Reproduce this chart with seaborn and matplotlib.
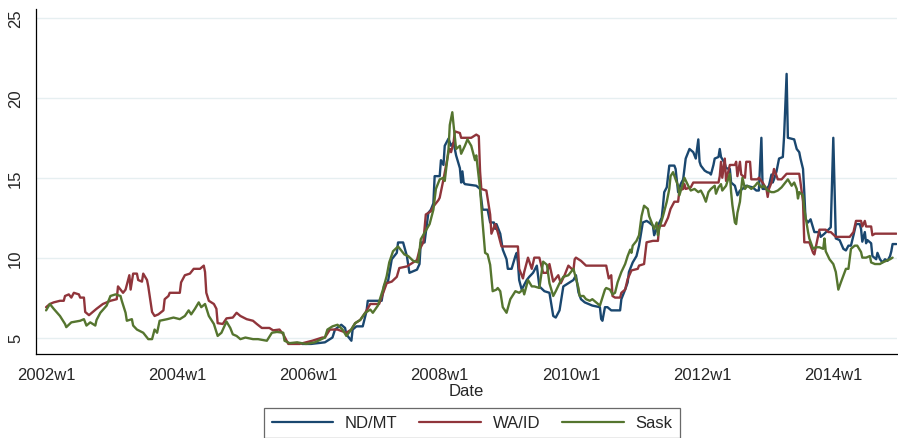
import matplotlib
matplotlib.use("Agg")
import matplotlib.pyplot as plt
import seaborn as sns
import pandas as pd

# ---- data (weeks since 2002w1, price) ----
ndmt_weeks = [203,210,221,227,229,234,237,238,242,243,246,251,254,255,266,268,271,274,278,279,283,286,288,294,296,297,300,303,305,307,308,312,313,315,316,319,321,323,325,328,329,330,331,332,341,344,346,350,352,355,356,357,360,362,365,366,369,372,373,374,375,377,381,383,386,389,391,395,399,402,404,407,410,414,418,420,422,424,427,430,433,439,440,441,443,445,448,455,456,459,461,462,465,468,470,473,476,478,481,482,485,488,489,490,492,493,494,498,499,501,503,505,507,510,513,515,517,518,519,522,524,526,527,529,530,533,534,535,538,539,542,543,546,548,550,552,555,560,563,565,567,568,571,573,575,576,577,579,581,584,585,587,588,593,595,597,598,600,601,602,604,606,609,613,614,617,622,624,626,629,632,634,636,638,640,642,645,646,647,649,650,651,654,655,658,659,661,663,665,667,669,670,671,674]
ndmt_vals = [4.6,4.6,4.7,5.0,5.5,5.8,5.6,5.2,4.8,5.5,5.7,5.7,6.65,7.3,7.3,8.3,8.5,9.9,10.3,10.95,10.95,10.1,9.05,9.25,9.6,10.95,10.95,12.8,13.0,13.4,15.1,15.1,16.1,15.8,17.0,17.45,17.0,17.2,16.4,15.6,14.7,15.4,14.7,14.6,14.5,14.3,13.0,13.0,12.2,12.2,11.8,12.1,11.5,10.5,9.9,9.3,9.3,10.1,10.3,9.7,8.6,8.0,8.6,8.8,9.05,9.5,8.2,7.9,7.8,6.35,6.25,6.7,8.2,8.4,8.6,8.9,7.83,7.4,7.2,7.1,7.0,6.9,6.16,6.05,6.9,6.9,6.7,6.7,7.4,8.0,8.45,9.1,9.7,10.1,10.75,12.2,12.3,12.2,12.0,11.4,12.0,12.5,13.25,14.1,14.4,15.1,15.76,15.76,15.55,14.1,14.6,14.9,16.2,16.8,16.6,16.2,17.4,16.0,15.76,15.45,15.35,15.3,15.2,15.8,16.2,16.3,16.8,16.3,15.9,15.6,15.55,14.7,14.5,13.9,14.2,14.3,14.5,14.4,14.2,14.2,17.5,14.3,14.3,14.5,15.2,14.7,14.9,15.4,16.2,16.3,17.6,21.5,17.5,17.4,16.8,16.6,16.2,15.55,14.1,12.4,12.2,12.4,11.6,11.6,11.3,11.5,11.9,17.5,11.2,11.1,10.55,10.45,10.75,10.75,11.4,12.1,12.1,11.8,11.0,11.6,10.9,11.1,10.9,10.1,9.9,10.3,9.9,9.7,9.9,9.8,10.1,10.4,10.85,10.85]

waid_weeks = [0,3,6,11,14,15,18,20,22,26,27,30,31,34,40,45,51,56,57,61,63,66,67,69,72,73,76,77,80,81,84,86,89,93,94,97,98,106,107,110,114,117,122,125,126,127,129,133,135,136,140,143,148,151,154,159,164,167,171,177,180,185,188,192,201,211,219,221,225,231,238,242,245,249,253,257,264,270,274,278,280,286,290,294,296,299,301,305,307,311,312,315,319,320,321,323,324,328,329,337,341,343,344,345,349,352,353,356,358,361,374,375,378,379,382,385,387,391,394,397,399,402,406,408,411,414,418,419,420,424,428,444,446,448,449,451,455,456,459,461,464,469,470,474,476,481,485,486,490,493,495,498,501,502,505,506,507,511,513,533,534,535,536,538,539,542,546,547,548,550,551,554,555,558,559,564,565,568,571,572,573,575,577,580,583,587,597,598,600,601,605,608,609,610,613,618,620,622,626,637,640,642,646,647,649,650,654,655,657,674]
waid_vals = [6.9,7.1,7.2,7.3,7.3,7.6,7.7,7.5,7.8,7.7,7.5,7.5,6.6,6.4,6.8,7.1,7.3,7.4,8.2,7.8,8.0,8.9,8.0,9.0,9.0,8.6,8.5,9.0,8.6,8.2,6.6,6.35,6.45,6.7,7.4,7.6,7.8,7.8,8.45,8.9,9.0,9.3,9.3,9.5,9.1,7.8,7.3,7.1,6.8,5.9,5.85,6.2,6.25,6.55,6.35,6.15,6.05,5.85,5.6,5.6,5.45,5.5,5.2,4.6,4.6,4.8,5.0,5.0,5.5,5.5,5.3,5.5,5.9,6.1,6.55,7.1,7.1,8.4,8.5,8.8,9.35,9.45,9.65,9.85,10.5,10.95,12.7,12.9,13.2,13.6,13.75,14.9,16.6,16.8,16.6,17.2,17.9,17.8,17.5,17.5,17.7,17.6,15.4,14.3,14.2,12.7,11.5,12.1,11.6,10.7,10.7,9.3,8.7,9.1,10.0,9.3,10.0,10.0,9.05,9.05,9.6,8.5,8.9,8.4,8.9,9.5,9.2,9.9,10.0,9.8,9.5,9.5,8.7,8.9,7.6,7.5,7.5,7.8,8.0,8.66,9.2,9.3,9.5,9.6,10.96,11.05,11.05,12.0,12.0,12.5,13.05,13.5,13.5,14.2,14.3,14.6,14.3,14.4,14.7,14.7,15.1,16.0,15.0,16.2,14.8,15.8,15.8,16.0,15.1,16.0,15.2,15.0,16.0,16.0,14.9,14.9,15.0,14.7,14.3,13.8,14.3,14.7,15.55,14.9,14.9,15.25,15.25,14.7,13.5,10.96,10.96,10.3,10.2,10.6,11.75,11.75,11.6,11.6,11.3,11.3,11.6,12.3,12.3,11.95,12.3,11.95,11.95,11.4,11.5,11.5]

sask_weeks = [0,3,6,11,15,16,20,27,30,32,35,39,40,43,48,51,55,59,60,63,64,68,69,72,77,81,84,86,88,90,96,101,106,110,113,115,118,121,123,126,129,133,136,139,143,146,148,151,154,158,164,168,175,179,183,188,189,193,199,206,213,221,223,227,231,235,238,241,245,249,253,257,259,263,267,270,272,275,279,282,284,287,291,295,297,301,304,307,309,312,315,316,319,320,322,323,325,328,329,332,334,337,338,340,341,344,345,346,348,350,352,354,357,358,360,362,365,368,372,375,378,379,382,385,387,391,394,397,399,402,404,407,410,414,418,420,422,423,426,428,431,433,436,439,441,443,444,447,449,451,453,456,459,461,463,464,465,468,470,472,474,477,478,480,482,484,485,486,489,492,494,495,497,499,501,502,505,506,509,511,514,517,519,521,523,525,527,530,531,533,535,536,539,542,543,544,546,547,548,550,551,552,554,556,559,562,564,567,569,572,575,577,580,583,585,588,591,593,595,596,597,600,601,604,605,608,610,613,616,617,618,621,624,626,628,630,632,634,636,638,641,643,646,647,650,653,654,657,661,663,666,669,671]
sask_vals = [6.7,7.1,6.8,6.35,5.85,5.65,5.95,6.05,6.15,5.75,5.95,5.75,6.1,6.55,7.0,7.6,7.7,7.6,7.3,6.55,6.05,6.15,5.75,5.5,5.3,4.9,4.9,5.5,5.3,6.05,6.15,6.25,6.15,6.35,6.7,6.45,6.8,7.2,6.9,7.1,6.35,5.85,5.1,5.3,6.0,5.6,5.2,5.1,4.9,5.0,4.9,4.9,4.8,5.3,5.35,5.3,4.8,4.65,4.7,4.6,4.7,5.0,5.5,5.7,5.8,5.5,5.1,5.4,5.9,6.1,6.55,6.75,6.55,7.0,8.0,8.85,9.7,10.4,10.7,10.4,10.2,10.1,9.8,9.7,11.15,11.7,12.1,13.0,14.3,14.9,15.0,14.8,16.8,18.3,19.1,18.3,16.8,17.0,16.5,17.0,17.4,17.0,16.7,16.1,16.4,14.3,13.25,12.2,10.3,10.2,9.55,7.9,8.0,8.1,7.9,6.9,6.55,7.4,7.9,7.8,8.0,7.7,8.6,8.2,8.2,8.1,9.75,9.55,8.4,7.6,7.9,8.4,8.8,8.9,9.3,8.7,8.1,7.6,7.6,7.4,7.3,7.4,7.2,7.0,7.5,8.0,8.1,8.0,7.7,7.8,8.45,9.1,9.6,10.1,10.5,10.3,10.75,11.05,11.4,12.6,13.25,13.05,12.6,12.2,11.8,12.2,11.4,11.8,12.6,13.5,14.3,15.1,15.35,14.9,14.5,13.9,14.7,15.0,14.5,14.2,14.3,14.1,14.2,13.9,13.5,14.1,14.3,14.5,14.0,14.4,14.6,14.2,14.5,15.25,14.1,13.3,12.2,12.1,12.8,13.5,14.3,15.0,14.3,14.5,14.3,14.5,14.7,14.4,14.5,14.2,14.1,14.1,14.2,14.4,14.6,14.9,14.5,14.7,14.3,13.7,14.1,13.9,13.05,11.6,11.2,10.55,10.65,10.65,10.55,11.2,10.4,9.9,9.6,9.1,8.0,8.45,8.87,9.3,9.3,10.55,10.75,10.75,10.35,10.0,10.0,10.1,9.7,9.6,9.6,9.7,9.8,9.9,10.0]

series_names = ["ND/MT", "WA/ID", "Sask"]
x_tick_weeks = [0, 104, 208, 312, 416, 520, 624]
x_tick_labels = ["2002w1", "2004w1", "2006w1", "2008w1", "2010w1", "2012w1", "2014w1"]
y_ticks = [5, 10, 15, 20, 25]

colors = {"ND/MT": "#1a476f", "WA/ID": "#90353b", "Sask": "#55752f"}

frames = []
for name, w, v in zip(series_names, [ndmt_weeks, waid_weeks, sask_weeks], [ndmt_vals, waid_vals, sask_vals]):
    frames.append(pd.DataFrame({"week": w, "price": v, "series": name}))
df = pd.concat(frames, ignore_index=True)

sns.set_style("white")
plt.rcParams["font.family"] = ["Liberation Sans", "DejaVu Sans"]

W, H = 898, 439
fig = plt.figure(figsize=(W / 100, H / 100), dpi=100)
ax_left, ax_right, ax_top, ax_bottom = 36, 897, 10, 355
ax = fig.add_axes([ax_left / W, 1 - ax_bottom / H, (ax_right - ax_left) / W, (ax_bottom - ax_top) / H])

sns.lineplot(data=df, x="week", y="price", hue="series", hue_order=series_names,
             palette=colors, estimator=None, sort=False, linewidth=1.7, ax=ax, legend=False)

ax.set_xlim(-8, 674.5)
ax.set_ylim(3.97, 25.56)
ax.set_xticks(x_tick_weeks)
ax.set_xticklabels(x_tick_labels, fontsize=12)
ax.set_yticks(y_ticks)
ax.set_yticklabels([str(t) for t in y_ticks], fontsize=12, rotation=90, va="center")
ax.yaxis.grid(True, color="#e6eff1", linewidth=1.0)
ax.xaxis.grid(False)
ax.set_axisbelow(True)
for s in ["top", "right"]:
    ax.spines[s].set_visible(False)
for s in ["left", "bottom"]:
    ax.spines[s].set_color("#000000")
    ax.spines[s].set_linewidth(0.9)
ax.tick_params(axis="both", direction="out", length=4.3, width=0.9, color="#000000", pad=5)
ax.set_xlabel("Date", fontsize=12, labelpad=1)
ax.set_ylabel("")

handles = ax.lines[:3]
leg = fig.legend(handles, series_names, loc="center", bbox_to_anchor=(472 / W, 1 - 424 / H), ncol=3,
                 fontsize=12, frameon=True, fancybox=False, handlelength=3.7,
                 columnspacing=1.3, handletextpad=0.7, borderpad=0.45, borderaxespad=0)
leg.get_frame().set_edgecolor("#444444")
leg.get_frame().set_linewidth(0.9)
for line in leg.get_lines():
    line.set_linewidth(1.6)

fig.savefig("out.png", dpi=100)
